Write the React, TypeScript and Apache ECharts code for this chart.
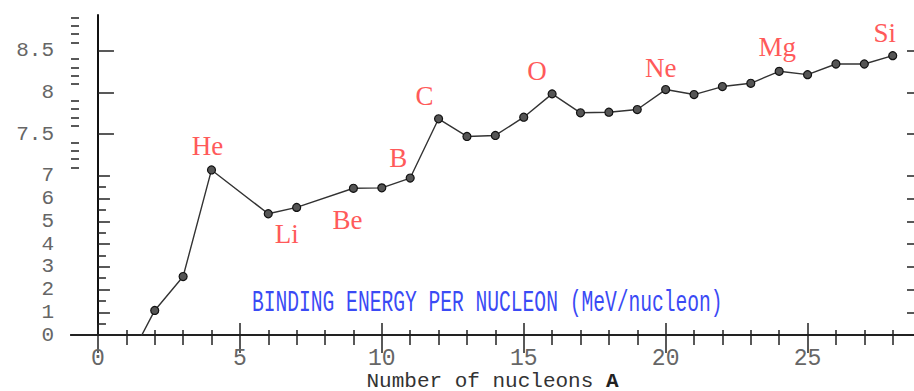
import React, { useEffect, useRef } from "react";
import * as echarts from "echarts";

// Mass number A and binding energy per nucleon (MeV)
const A_VALUES = [1, 2, 3, 4, 6, 7, 9, 10, 11, 12, 13, 14, 15, 16, 17, 18, 19, 20, 21, 22, 23, 24, 25, 26, 27, 28];
const BE_VALUES = [
  -1.3, 1.08, 2.57, 7.07, 5.33, 5.61, 6.45, 6.47, 6.9,
  7.684, 7.472, 7.484, 7.703, 7.983, 7.756, 7.763, 7.795, 8.035, 7.975,
  8.071, 8.11, 8.254, 8.214, 8.342, 8.342, 8.442,
];
const ELEMENT_NAMES = ["He", "Li", "Be", "B", "C", "O", "Ne", "Mg", "Si"];
const ELEMENT_AT = [4, 7, 9, 11, 12, 16, 20, 24, 28];

const X_TICK_LABELS = [0, 5, 10, 15, 20, 25];
const Y_TICK_LABELS = [0, 1, 2, 3, 4, 5, 6, 7, 7.5, 8, 8.5];
const CHART_TEXT = "BINDING ENERGY PER NUCLEON (MeV/nucleon)";

// piecewise scale: 0..7 compressed, above 7 stretched
const BREAK = 7;
const STRETCH = 83.5 / 22.8;
const X_MIN = -0.95;
const X_MAX = 28.75;
const Y_TOP = 8.93;

const toDisp = (v: number) => (v <= BREAK ? v : BREAK + (v - BREAK) * STRETCH);
const fromDisp = (d: number) => (d <= BREAK ? d : BREAK + (d - BREAK) / STRETCH);

const LABEL_OFFSETS: Record<string, [number, number]> = {
  He: [-4, -24],
  Li: [-10, 27],
  Be: [-6, 32],
  B: [-12, -20],
  C: [-14, -23],
  O: [-15, -23],
  Ne: [-5, -22],
  Mg: [-2, -24],
  Si: [-8, -23],
};

const MONO = "Liberation Mono";

export default function App() {
  const ref = useRef<HTMLDivElement>(null);

  useEffect(() => {
    if (!ref.current) return;
    const chart = echarts.init(ref.current, undefined, { renderer: "svg" });

    const yMax = toDisp(Y_TOP);
    const lowerInts: number[] = [];
    const lowerHalves: number[] = [];
    for (let i = 0; i <= 7; i++) lowerInts.push(i);
    for (let i = 0; i < 7; i++) lowerHalves.push(i + 0.5);
    const upperMajors = [7.5, 8, 8.5];
    const upperMinors: number[] = [];
    for (let i = 71; i <= 89; i++) {
      if (i % 5 !== 0) upperMinors.push(i / 10);
    }
    const xInts: number[] = [];
    for (let i = 0; i <= 28; i++) if (i % 5 !== 0) xInts.push(i);

    const tickStyle = { color: "#222", width: 1.5 };

    const yBase = (extra: any) => ({
      type: "value",
      min: 0,
      max: yMax,
      position: "left",
      offset: 0,
      splitLine: { show: false },
      axisLabel: { show: false },
      axisLine: { show: false },
      axisTick: { show: false },
      ...extra,
    });
    const yTicks = (vals: number[], length: number, position = "left") =>
      yBase({
        position,
        axisTick: {
          show: true,
          inside: true,
          length,
          customValues: vals.map(toDisp),
          lineStyle: tickStyle,
        },
      });

    const xBase = (extra: any) => ({
      type: "value",
      min: X_MIN,
      max: X_MAX,
      position: "bottom",
      offset: 0,
      splitLine: { show: false },
      axisLabel: { show: false },
      axisLine: { show: false },
      axisTick: { show: false },
      ...extra,
    });
    const xTicks = (vals: number[], length: number, position = "bottom") =>
      xBase({
        position,
        axisTick: {
          show: true,
          inside: true,
          length,
          customValues: vals,
          lineStyle: tickStyle,
        },
      });

    const labelIndex: Record<number, string> = {};
    ELEMENT_AT.forEach((a, i) => (labelIndex[a] = ELEMENT_NAMES[i]));

    const data = A_VALUES.map((a, i) => {
      const item: any = { value: [a, toDisp(BE_VALUES[i])] };
      if (i === 0) item.symbol = "none";
      const name = labelIndex[a];
      if (name) {
        item.label = {
          show: true,
          formatter: name,
          position: "inside",
          offset: LABEL_OFFSETS[name],
          color: "#ff5a5a",
          fontFamily: "Liberation Serif",
          fontSize: 27,
        };
      }
      return item;
    });

    chart.setOption({
      animation: false,
      backgroundColor: "#ffffff",
      grid: {
        left: 71,
        right: 0,
        top: 15,
        bottom: 56,
        containLabel: false,
        outerBoundsMode: "none",
      },
      xAxis: [
        xBase({
          axisLine: { show: true, lineStyle: { color: "#333", width: 2 } },
          axisTick: {
            show: true,
            inside: true,
            length: 12,
            customValues: X_TICK_LABELS,
            lineStyle: tickStyle,
          },
          axisLabel: {
            show: true,
            customValues: X_TICK_LABELS,
            color: "#666",
            fontFamily: MONO,
            fontSize: 23,
            margin: 12,
          },
          name: "Number of nucleons {b|A}",
          nameLocation: "middle",
          nameGap: 36,
          nameMoveOverlap: false,
          nameTextStyle: {
            color: "#333",
            fontFamily: MONO,
            fontSize: 21,
            lineHeight: 20,
            rich: {
              b: { fontFamily: MONO, fontSize: 21, lineHeight: 20, fontWeight: "bold", color: "#222" },
            },
          },
        }),
        xTicks(xInts, 5, "bottom"),
        xBase({
          position: "top",
          axisLine: { show: true, lineStyle: { color: "#222", width: 2 } },
          axisTick: {
            show: true,
            inside: true,
            length: 18,
            customValues: X_TICK_LABELS,
            lineStyle: tickStyle,
          },
        }),
        xTicks(xInts, 10, "top"),
      ],
      yAxis: [
        yBase({
          axisLine: { show: true, lineStyle: { color: "#111", width: 2 } },
          axisLabel: {
            show: true,
            customValues: Y_TICK_LABELS.map(toDisp),
            formatter: (v: number) => String(Math.round(fromDisp(v) * 10) / 10),
            color: "#666",
            fontFamily: MONO,
            fontSize: 21,
            lineHeight: 21,
            margin: 17,
            showMinLabel: true,
            showMaxLabel: true,
          },
        }),
        yTicks(lowerInts, 12),
        yTicks(lowerHalves, 8),
        yTicks(upperMajors, 16),
        yTicks(upperMinors, 8),
        yTicks(Y_TICK_LABELS, 7, "right"),
      ],
      graphic: [
        {
          type: "text",
          x: 252,
          y: 303,
          scaleX: 0.654,
          style: {
            text: CHART_TEXT,
            fill: "#3a4af5",
            fontFamily: MONO,
            fontSize: 30,
            align: "left",
            verticalAlign: "middle",
          },
        },
      ],
      series: [
        {
          type: "line",
          xAxisIndex: 0,
          yAxisIndex: 0,
          data,
          clip: true,
          symbol: "circle",
          symbolSize: 8,
          lineStyle: { color: "#333", width: 1.4 },
          itemStyle: { color: "#555", borderColor: "#111", borderWidth: 1.2 },
        },
      ],
    });

    return () => chart.dispose();
  }, []);

  return (
    <div
      ref={ref}
      style={{ position: "fixed", left: 0, top: 0, width: 914, height: 391 }}
    />
  );
}
